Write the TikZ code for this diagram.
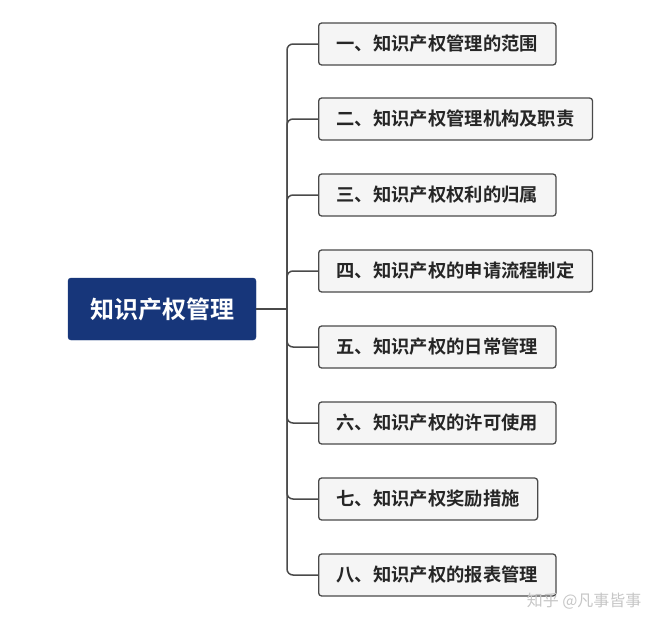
\documentclass[tikz,border=0pt]{standalone}
\usepackage{fontspec}
\newfontfamily\cjk{Noto Sans CJK SC}
\newfontfamily\cjkb{Noto Sans CJK SC Bold}
\definecolor{rootblue}{HTML}{17367A}
\definecolor{boxgray}{HTML}{F5F5F5}
\definecolor{linegray}{HTML}{4A4A4A}
\begin{document}
\begin{tikzpicture}[x=1pt,y=-1pt,
  rootbox/.style={fill=rootblue,draw=rootblue,rounded corners=3pt,text=white,font=\cjkb\fontsize{24}{24}\selectfont,minimum width=188pt,minimum height=62pt},
  topicbox/.style={anchor=west,fill=boxgray,draw=linegray,line width=1.3pt,rounded corners=3pt,font=\cjkb\fontsize{18.3}{19}\selectfont,text=black!85,minimum height=42pt,inner xsep=18pt},
  link/.style={draw=linegray,line width=1.5pt,rounded corners=6pt}]
  \useasboundingbox (0,0) rectangle (661,629);
  \node[rootbox] (root) at (162,309) {知识产权管理};
  \coordinate (trunk) at (287,309);
  \node[topicbox] (t1) at (318,44) {一、知识产权管理的范围};
  \node[topicbox] (t2) at (318,119) {二、知识产权管理机构及职责};
  \node[topicbox] (t3) at (318,195) {三、知识产权权利的归属};
  \node[topicbox] (t4) at (318,271) {四、知识产权的申请流程制定};
  \node[topicbox] (t5) at (318,347) {五、知识产权的日常管理};
  \node[topicbox] (t6) at (318,423) {六、知识产权的许可使用};
  \node[topicbox] (t7) at (318,499) {七、知识产权奖励措施};
  \node[topicbox] (t8) at (318,575) {八、知识产权的报表管理};
  \draw[link,line width=2.5pt,rounded corners=0pt] (root.east) -- (trunk);
  \foreach \t in {t1,t2,t3,t4,t5,t6,t7,t8}
    \draw[link] (trunk) |- (\t.west);
  \node[text=gray!45,font=\cjk\fontsize{16}{16}\selectfont,anchor=east] (mark) at (645,601) {知乎 @凡事皆事};
\end{tikzpicture}
\end{document}
